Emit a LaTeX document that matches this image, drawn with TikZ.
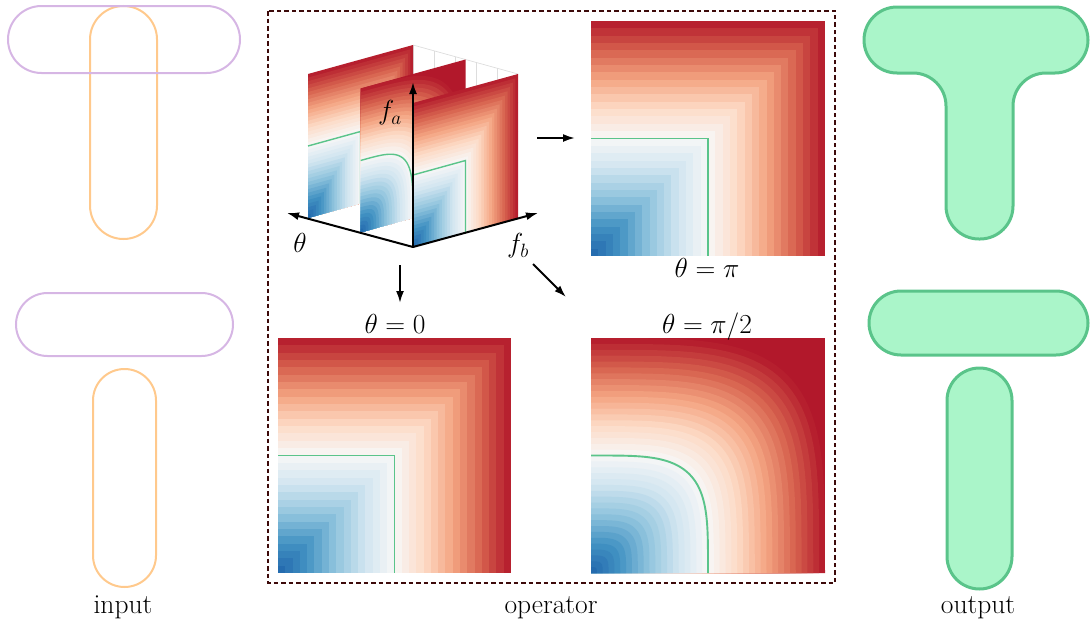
\RequirePackage{fix-cm}
\documentclass[tikz,border=0pt]{standalone}
\usepackage{fontspec}
\usetikzlibrary{arrows.meta}
\definecolor{rb0}{HTML}{2166AC}
\definecolor{rb1}{HTML}{4393C3}
\definecolor{rb2}{HTML}{92C5DE}
\definecolor{rb3}{HTML}{D1E5F0}
\definecolor{rb4}{HTML}{F7F7F7}
\definecolor{rb5}{HTML}{FDDBC7}
\definecolor{rb6}{HTML}{F4A582}
\definecolor{rb7}{HTML}{D6604D}
\definecolor{rb8}{HTML}{B2182B}
\definecolor{inpurple}{HTML}{D6B6E4}
\definecolor{inorange}{HTML}{FFC98C}
\definecolor{outfill}{HTML}{AAF5C9}
\definecolor{outline}{HTML}{5AC48A}
\definecolor{framecol}{HTML}{3D0A0A}
\definecolor{gridcol}{HTML}{DDDDDD}
\newcommand\setrb[1]{%
  \pgfmathsetmacro\rbv{min(max(#1,0),1)*8}%
  \pgfmathtruncatemacro\rbs{min(int(\rbv),7)}%
  \pgfmathtruncatemacro\rbn{\rbs+1}%
  \pgfmathsetmacro\rbp{(\rbv-\rbs)*100}%
  \colorlet{rbcur}{rb\rbn!\rbp!rb\rbs}%
}
\newcommand\sqmap[2]{% #1 bands, #2 contour width
  \foreach \k in {#1,...,1}{%
    \pgfmathsetmacro\rr{\k/#1}%
    \setrb{(\k-0.5)/#1}%
    \fill[rbcur] (0,0) -- (\rr,0) -- (\rr,\rr) -- (0,\rr) -- cycle;
  }%
  \draw[contour, line width=#2] (0,0.5) -- (0.5,0.5) -- (0.5,0);
}
\newcommand\rdmap[2]{%
  \begin{scope}
  \clip (0,0) -- (1,0) -- (1,1) -- (0,1) -- cycle;
  \fill[rb8] (0,0) -- (1,0) -- (1,1) -- (0,1) -- cycle;
  \foreach \k in {#1,...,1}{%
    \pgfmathsetmacro\rr{\k/#1}%
    \setrb{(\k-0.5)/#1}%
    \fill[rbcur] (0,0) -- plot[domain=0:90,samples=31,variable=\ang]
      ({\rr*sqrt(max(cos(\ang),0))},{\rr*sqrt(max(sin(\ang),0))}) -- cycle;
  }%
  \draw[contour, line width=#2] plot[domain=0:90,samples=61,variable=\ang]
      ({0.5*sqrt(max(cos(\ang),0))},{0.5*sqrt(max(sin(\ang),0))});
  \end{scope}
}
\begin{document}
\begin{tikzpicture}[x=1pt,y=-1pt,
  lbl/.style={font=\fontsize{27.5}{32}\selectfont, inner sep=0pt},
  inbar/.style={draw=inpurple, line width=2pt, rounded corners=#1},
  instem/.style={draw=inorange, line width=2pt, rounded corners=#1},
  outshape/.style={draw=outline, fill=outfill, line width=3pt, rounded corners=#1},
  framebox/.style={draw=framecol, line width=2pt, dash pattern=on 4.5pt off 3pt},
  contour/.style={draw=outline},
  axis/.style={line width=2pt, -{Latex[length=12pt,width=8pt]}},
  conn/.style={line width=2pt, -{Latex[length=12pt,width=8pt]}},
  gridline/.style={draw=gridcol, line width=0.7pt}]
\useasboundingbox (0,0) rectangle (1090,621);

% ---------- input ----------
\draw[instem=33.5pt] (90,6) rectangle (157,239);
\draw[inbar=33.5pt] (8,6) rectangle (240,73);
\draw[inbar=31.5pt] (16,293) rectangle (233,356);
\draw[instem=31.5pt] (93,369) rectangle (156,587);

% ---------- output ----------
\draw[outshape=33pt] (976,7) -- (1088,7) -- (1088,73) -- (1013,73) -- (1013,239)
  -- (946,239) -- (946,73) -- (864,73) -- (864,7) -- cycle;
\draw[outshape=32pt] (869,291) rectangle (1088,355);
\draw[outshape=32.5pt] (947,368) rectangle (1012,589);

% ---------- operator frame ----------
\draw[framebox] (268,11) rectangle (835,583);

% ---------- 3D plot ----------
% grid on the wall f_b = 1
\foreach \g in {0.2,0.4,0.6,0.8,1} {
  \draw[gridline] ({518-105*\g},{218-29*\g}) -- ({518-105*\g},{218-29*\g-144});
  \draw[gridline] (518,{218-144*\g}) -- (413,{189-144*\g});
}
% slices: back (theta=pi), middle (theta=pi/2), front (theta=0)
\begin{scope}[shift={(308,218)}, x={(105pt,29pt)}, y={(0pt,144pt)}]
  \sqmap{40}{1.4pt}
\end{scope}
\begin{scope}[shift={(360.5,232.5)}, x={(105pt,29pt)}, y={(0pt,144pt)}]
  \rdmap{40}{1.4pt}
\end{scope}
\begin{scope}[shift={(413,247)}, x={(105pt,29pt)}, y={(0pt,144pt)}]
  \sqmap{40}{1.4pt}
\end{scope}
% axes
\coordinate (O) at (413,247);
\coordinate (fa) at (413,82);
\coordinate (th) at (287,213);
\coordinate (fb) at (538,213);
\draw[axis] (O) -- (fa);
\draw[axis] (O) -- (th);
\draw[axis] (O) -- (fb);
\node[lbl] (lfa) at (390,113) {$f_a$};
\node[lbl] (lth) at (300,243) {$\theta$};
\node[lbl] (lfb) at (518,246) {$f_b$};

% ---------- 2D slices ----------
\begin{scope}[shift={(591,256)}, x={(234pt,0pt)}, y={(0pt,235pt)}]
  \sqmap{32}{1.9pt}
\end{scope}
\begin{scope}[shift={(278,573)}, x={(233pt,0pt)}, y={(0pt,235pt)}]
  \sqmap{32}{1.9pt}
\end{scope}
\begin{scope}[shift={(591,573)}, x={(234pt,0pt)}, y={(0pt,235pt)}]
  \rdmap{40}{1.9pt}
\end{scope}
\node[lbl, anchor=base] (tpi) at (707,277) {$\theta=\pi$};
\node[lbl, anchor=base] (t0) at (395,333) {$\theta=0$};
\node[lbl, anchor=base] (thalf) at (707,333) {$\theta=\pi/2$};

% ---------- connectors ----------
\coordinate (a1s) at (537,138);
\coordinate (a1e) at (575,138);
\coordinate (a2s) at (400,265);
\coordinate (a2e) at (400,303);
\coordinate (a3s) at (533,264);
\coordinate (a3e) at (566,297);
\draw[conn] (a1s) -- (a1e);
\draw[conn] (a2s) -- (a2e);
\draw[conn] (a3s) -- (a3e);

% ---------- captions ----------
\node[lbl, anchor=base] (lin) at (123,613) {input};
\node[lbl, anchor=base] (lop) at (551,613) {operator};
\node[lbl, anchor=base] (lout) at (978,613) {output};
\end{tikzpicture}
\end{document}
